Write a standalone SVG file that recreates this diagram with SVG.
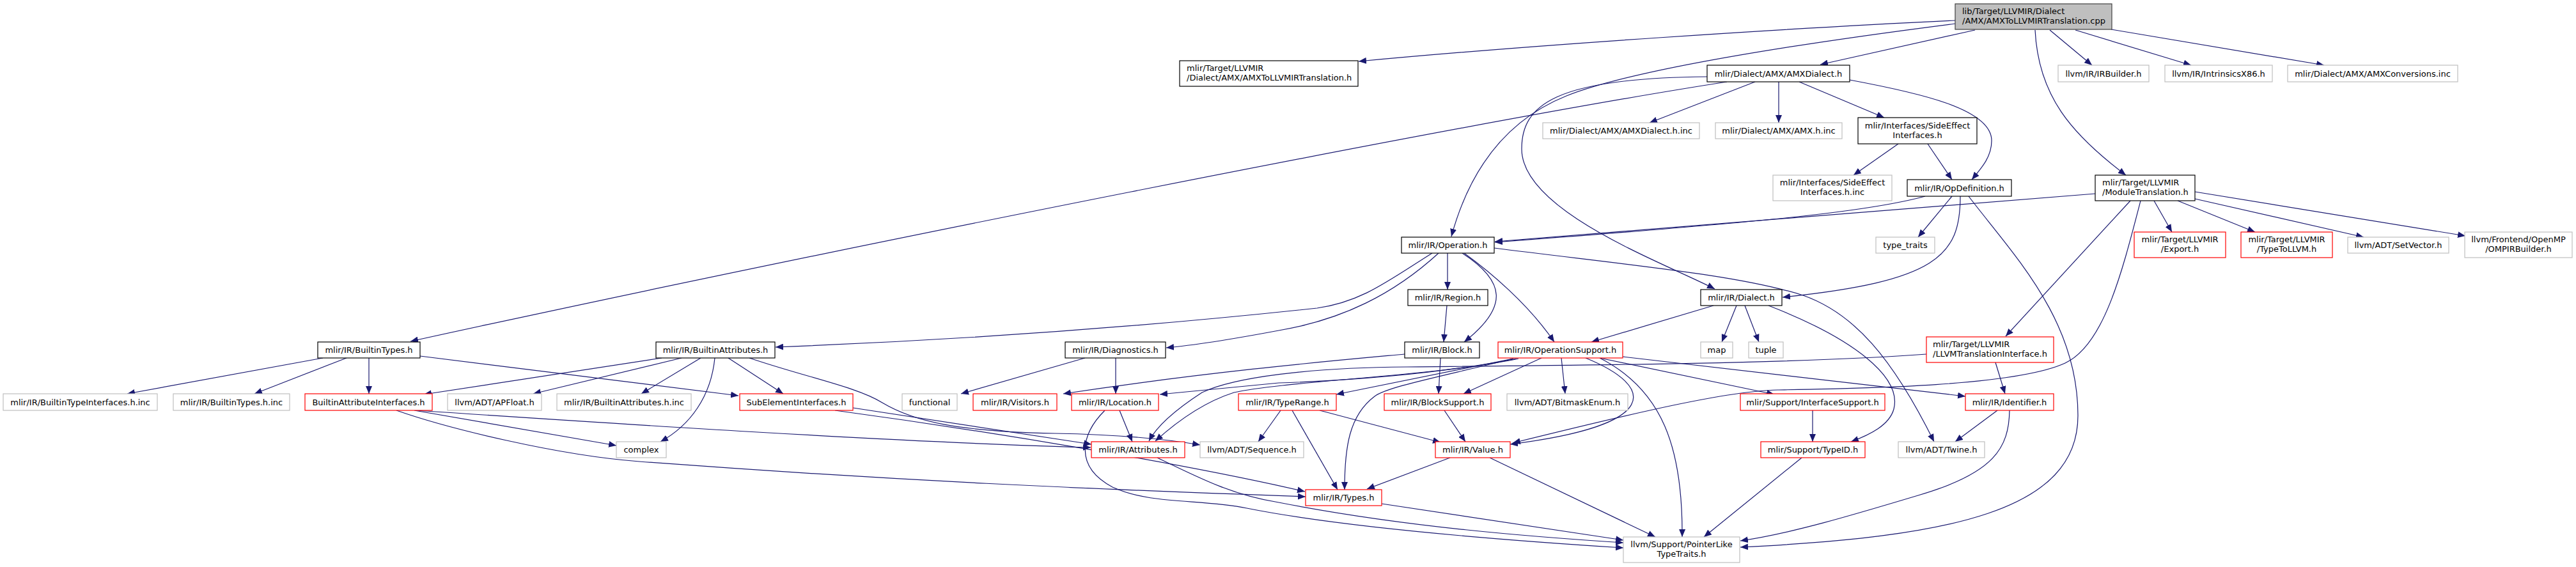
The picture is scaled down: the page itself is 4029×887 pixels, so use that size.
<svg xmlns="http://www.w3.org/2000/svg" width="4029" height="887" viewBox="0 0 4029 887">
<style>
.n rect{fill:#fff;stroke:#000;stroke-width:1.2}
.g rect{fill:#fff;stroke:#bfbfbf;stroke-width:1.2}
.r rect{fill:#fff;stroke:#ff0000;stroke-width:1.2}
.root rect{fill:#bfbfbf;stroke:#404040;stroke-width:1.2}
text{font-family:"DejaVu Sans","Liberation Sans",sans-serif;font-size:13px;fill:#000}
.c{text-anchor:middle}
#edges path{fill:none;stroke:#191970;stroke-width:1.2;marker-end:url(#a)}
</style>
<defs>
<marker id="a" markerUnits="userSpaceOnUse" markerWidth="13" markerHeight="10" refX="12" refY="5" orient="auto"><path d="M0,0 L12,5 L0,10 z" fill="#191970"/></marker>
</defs>
<rect width="4029" height="887" fill="#fff"/>
<g id="edges">
<path d="M3058,32 C2800,44 2400,70 2125,96"/>
<path d="M3089,47 L2847,101"/>
<path d="M3058,37 C2800,70 2550,110 2450,150 C2360,186 2300,260 2270,370"/>
<path d="M3183,47 C3188,150 3240,210 3325,274"/>
<path d="M3206,47 L3272,102"/>
<path d="M3246,47 L3427,102"/>
<path d="M3302,46 L3635,102"/>
<path d="M2701,128 C2300,190 1300,390 642,534"/>
<path d="M2670,120 C2430,122 2380,165 2380,233 C2380,330 2600,410 2682,452"/>
<path d="M2745,128 L2580,192"/>
<path d="M2782,128 L2782,192"/>
<path d="M2814,128 L2947,184"/>
<path d="M2893,125 C3000,145 3115,170 3115,220 C3115,245 3100,262 3084,281"/>
<path d="M2969,225 L2899,274"/>
<path d="M3015,225 L3053,281"/>
<path d="M3053,307 L3000,371"/>
<path d="M3011,307 C2920,332 2750,348 2338,379"/>
<path d="M3066,307 C3066,400 3030,440 2788,465"/>
<path d="M3079,307 C3150,400 3250,500 3250,650 C3250,800 3050,840 2722,856"/>
<path d="M3277,303 C2900,335 2600,358 2338,378"/>
<path d="M3332,314 L3137,526"/>
<path d="M3348,314 C3318,430 3290,540 3230,568 C3150,605 2900,608 2780,610 C2700,612 2560,645 2366,693"/>
<path d="M3369,314 L3397,363"/>
<path d="M3406,314 L3527,363"/>
<path d="M3433,311 L3697,371"/>
<path d="M3433,300 L3856,369"/>
<path d="M2240,396 C2170,440 2130,472 2060,482 C1800,510 1500,532 1213,543"/>
<path d="M2250,396 C2180,460 2100,500 2000,517 C1920,532 1870,540 1824,544"/>
<path d="M2264,396 L2264,453"/>
<path d="M2287,396 C2355,440 2360,480 2290,535"/>
<path d="M2290,396 C2330,425 2390,475 2431,535"/>
<path d="M2337,388 C2550,415 2720,430 2820,462 C2900,490 2960,560 3025,691"/>
<path d="M2263,478 L2258,535"/>
<path d="M2680,478 L2489,535"/>
<path d="M2716,478 L2693,535"/>
<path d="M2729,478 L2751,535"/>
<path d="M2766,478 C2900,530 2975,590 2962,640 C2955,665 2925,680 2895,691"/>
<path d="M2411,560 L2289,616"/>
<path d="M2442,560 L2448,616"/>
<path d="M2480,560 C2590,605 2600,665 2362,695"/>
<path d="M2502,560 C2600,610 2632,700 2631,840"/>
<path d="M2538,558 L3074,620"/>
<path d="M2502,560 L2775,617"/>
<path d="M2367,561 L2090,617"/>
<path d="M2367,561 C2250,590 2170,605 2150,620 C2110,650 2103,700 2103,766"/>
<path d="M2372,561 C2250,585 2100,596 2000,599 L1814,617"/>
<path d="M2375,561 C2250,588 2010,596 1930,614 C1880,630 1840,660 1807,690"/>
<path d="M2253,560 L2250,616"/>
<path d="M2197,554 C2100,563 1900,580 1663,616"/>
<path d="M3121,567 L3136,616"/>
<path d="M3013,554 C2800,570 2400,572 2200,574 C2050,575 1930,590 1880,614 C1840,640 1810,665 1797,690"/>
<path d="M1697,560 L1503,616"/>
<path d="M1745,560 L1745,616"/>
<path d="M1751,642 L1771,691"/>
<path d="M1728,642 C1690,680 1680,730 1740,762 C1800,790 1880,780 1950,795 C2100,825 2350,845 2539,857"/>
<path d="M1810,716 C1880,750 1930,775 2000,786 C2200,825 2400,840 2539,849"/>
<path d="M2161,788 L2539,845"/>
<path d="M2268,716 L2138,765"/>
<path d="M2330,716 L2589,840"/>
<path d="M2003,642 L1968,691"/>
<path d="M2021,642 L2092,766"/>
<path d="M2064,642 L2253,692"/>
<path d="M2259,642 L2292,691"/>
<path d="M2835,642 L2835,691"/>
<path d="M2818,716 L2665,840"/>
<path d="M3124,642 L3058,691"/>
<path d="M3143,642 C3142,700 3120,740 3000,775 C2900,805 2800,835 2722,846"/>
<path d="M505,560 L199,616"/>
<path d="M542,560 L398,616"/>
<path d="M577,560 L577,616"/>
<path d="M657,557 L1155,619"/>
<path d="M1035,560 L663,617"/>
<path d="M1066,560 L834,616"/>
<path d="M1096,560 L1003,616"/>
<path d="M1118,560 C1112,620 1080,665 1033,691"/>
<path d="M1139,560 L1225,616"/>
<path d="M1172,560 C1260,590 1340,605 1380,630 C1430,660 1500,675 1650,678 C1760,680 1830,688 1877,696"/>
<path d="M651,642 C950,662 1400,692 1706,700"/>
<path d="M648,642 L964,697"/>
<path d="M620,642 C700,670 870,712 1000,722 C1400,752 1700,765 2042,777"/>
<path d="M1334,638 L1707,695"/>
<path d="M1306,642 C1550,675 1850,725 2041,769"/>
</g>
<g id="n1" class="root"><rect x="3058" y="6" width="245" height="40"/><text x="3069" y="22">lib/Target/LLVMIR/Dialect</text><text x="3069" y="37">/AMX/AMXToLLVMIRTranslation.cpp</text></g>
<g id="n2" class="n"><rect x="1845" y="95" width="279" height="40"/><text x="1856" y="111">mlir/Target/LLVMIR</text><text x="1856" y="126">/Dialect/AMX/AMXToLLVMIRTranslation.h</text></g>
<g id="n3" class="n"><rect x="2670" y="102" width="223" height="26"/><text class="c" x="2781.5" y="119.5">mlir/Dialect/AMX/AMXDialect.h</text></g>
<g id="n4" class="g"><rect x="3219" y="102" width="142" height="26"/><text class="c" x="3290" y="119.5">llvm/IR/IRBuilder.h</text></g>
<g id="n5" class="g"><rect x="3386" y="102" width="168" height="26"/><text class="c" x="3470" y="119.5">llvm/IR/IntrinsicsX86.h</text></g>
<g id="n6" class="g"><rect x="3578" y="102" width="266" height="26"/><text class="c" x="3711" y="119.5">mlir/Dialect/AMX/AMXConversions.inc</text></g>
<g id="n7" class="g"><rect x="2413" y="192" width="245" height="25"/><text class="c" x="2535.5" y="209">mlir/Dialect/AMX/AMXDialect.h.inc</text></g>
<g id="n8" class="g"><rect x="2683" y="192" width="198" height="25"/><text class="c" x="2782" y="209">mlir/Dialect/AMX/AMX.h.inc</text></g>
<g id="n9" class="n"><rect x="2906" y="184" width="186" height="41"/><text class="c" x="2999" y="200.5">mlir/Interfaces/SideEffect</text><text class="c" x="2999" y="215.5">Interfaces.h</text></g>
<g id="n10" class="g"><rect x="2773" y="274" width="186" height="40"/><text class="c" x="2866" y="290">mlir/Interfaces/SideEffect</text><text class="c" x="2866" y="305">Interfaces.h.inc</text></g>
<g id="n11" class="n"><rect x="2983" y="281" width="163" height="26"/><text class="c" x="3064.5" y="298.5">mlir/IR/OpDefinition.h</text></g>
<g id="n12" class="n"><rect x="3277" y="274" width="156" height="40"/><text x="3288" y="290">mlir/Target/LLVMIR</text><text x="3288" y="305">/ModuleTranslation.h</text></g>
<g id="n13" class="n"><rect x="2192" y="371" width="145" height="25"/><text class="c" x="2264.5" y="388">mlir/IR/Operation.h</text></g>
<g id="n14" class="g"><rect x="2934" y="371" width="92" height="25"/><text class="c" x="2980" y="388">type_traits</text></g>
<g id="n15" class="r"><rect x="3338" y="363" width="143" height="40"/><text class="c" x="3409.5" y="379">mlir/Target/LLVMIR</text><text class="c" x="3409.5" y="394">/Export.h</text></g>
<g id="n16" class="r"><rect x="3505" y="363" width="143" height="40"/><text class="c" x="3576.5" y="379">mlir/Target/LLVMIR</text><text class="c" x="3576.5" y="394">/TypeToLLVM.h</text></g>
<g id="n17" class="g"><rect x="3672" y="371" width="158" height="25"/><text class="c" x="3751" y="388">llvm/ADT/SetVector.h</text></g>
<g id="n18" class="g"><rect x="3855" y="363" width="168" height="40"/><text class="c" x="3939" y="379">llvm/Frontend/OpenMP</text><text class="c" x="3939" y="394">/OMPIRBuilder.h</text></g>
<g id="n19" class="n"><rect x="2202" y="453" width="125" height="25"/><text class="c" x="2264.5" y="470">mlir/IR/Region.h</text></g>
<g id="n20" class="n"><rect x="2660" y="453" width="127" height="25"/><text class="c" x="2723.5" y="470">mlir/IR/Dialect.h</text></g>
<g id="n21" class="n"><rect x="497" y="535" width="160" height="25"/><text class="c" x="577" y="552">mlir/IR/BuiltinTypes.h</text></g>
<g id="n22" class="n"><rect x="1026" y="535" width="186" height="25"/><text class="c" x="1119" y="552">mlir/IR/BuiltinAttributes.h</text></g>
<g id="n23" class="n"><rect x="1666" y="535" width="157" height="25"/><text class="c" x="1744.5" y="552">mlir/IR/Diagnostics.h</text></g>
<g id="n24" class="n"><rect x="2197" y="535" width="117" height="25"/><text class="c" x="2255.5" y="552">mlir/IR/Block.h</text></g>
<g id="n25" class="r"><rect x="2343" y="535" width="195" height="25"/><text class="c" x="2440.5" y="552">mlir/IR/OperationSupport.h</text></g>
<g id="n26" class="g"><rect x="2660" y="535" width="50" height="25"/><text class="c" x="2685" y="552">map</text></g>
<g id="n27" class="g"><rect x="2735" y="535" width="54" height="25"/><text class="c" x="2762" y="552">tuple</text></g>
<g id="n28" class="r"><rect x="3013" y="527" width="199" height="40"/><text x="3023" y="543">mlir/Target/LLVMIR</text><text x="3023" y="558">/LLVMTranslationInterface.h</text></g>
<g id="n29" class="g"><rect x="5" y="616" width="241" height="26"/><text class="c" x="125.5" y="633.5">mlir/IR/BuiltinTypeInterfaces.h.inc</text></g>
<g id="n30" class="g"><rect x="271" y="616" width="182" height="26"/><text class="c" x="362" y="633.5">mlir/IR/BuiltinTypes.h.inc</text></g>
<g id="n31" class="r"><rect x="477" y="616" width="199" height="26"/><text class="c" x="576.5" y="633.5">BuiltinAttributeInterfaces.h</text></g>
<g id="n32" class="g"><rect x="700" y="616" width="147" height="26"/><text class="c" x="773.5" y="633.5">llvm/ADT/APFloat.h</text></g>
<g id="n33" class="g"><rect x="871" y="616" width="210" height="26"/><text class="c" x="976" y="633.5">mlir/IR/BuiltinAttributes.h.inc</text></g>
<g id="n34" class="r"><rect x="1157" y="616" width="177" height="26"/><text class="c" x="1245.5" y="633.5">SubElementInterfaces.h</text></g>
<g id="n35" class="g"><rect x="1411" y="616" width="86" height="26"/><text class="c" x="1454" y="633.5">functional</text></g>
<g id="n36" class="r"><rect x="1522" y="616" width="131" height="26"/><text class="c" x="1587.5" y="633.5">mlir/IR/Visitors.h</text></g>
<g id="n37" class="r"><rect x="1676" y="616" width="136" height="26"/><text class="c" x="1744" y="633.5">mlir/IR/Location.h</text></g>
<g id="n38" class="r"><rect x="1937" y="616" width="153" height="26"/><text class="c" x="2013.5" y="633.5">mlir/IR/TypeRange.h</text></g>
<g id="n39" class="r"><rect x="2165" y="616" width="167" height="26"/><text class="c" x="2248.5" y="633.5">mlir/IR/BlockSupport.h</text></g>
<g id="n40" class="g"><rect x="2357" y="616" width="189" height="26"/><text class="c" x="2451.5" y="633.5">llvm/ADT/BitmaskEnum.h</text></g>
<g id="n41" class="r"><rect x="2722" y="616" width="226" height="26"/><text class="c" x="2835" y="633.5">mlir/Support/InterfaceSupport.h</text></g>
<g id="n42" class="r"><rect x="3074" y="616" width="138" height="26"/><text class="c" x="3143" y="633.5">mlir/IR/Identifier.h</text></g>
<g id="n43" class="g"><rect x="964" y="691" width="78" height="25"/><text class="c" x="1003" y="708">complex</text></g>
<g id="n44" class="r"><rect x="1707" y="691" width="146" height="25"/><text class="c" x="1780" y="708">mlir/IR/Attributes.h</text></g>
<g id="n45" class="g"><rect x="1877" y="691" width="162" height="25"/><text class="c" x="1958" y="708">llvm/ADT/Sequence.h</text></g>
<g id="n46" class="r"><rect x="2245" y="691" width="117" height="25"/><text class="c" x="2303.5" y="708">mlir/IR/Value.h</text></g>
<g id="n47" class="r"><rect x="2754" y="691" width="163" height="25"/><text class="c" x="2835.5" y="708">mlir/Support/TypeID.h</text></g>
<g id="n48" class="g"><rect x="2969" y="691" width="135" height="25"/><text class="c" x="3036.5" y="708">llvm/ADT/Twine.h</text></g>
<g id="n49" class="r"><rect x="2042" y="766" width="119" height="25"/><text class="c" x="2101.5" y="783">mlir/IR/Types.h</text></g>
<g id="n50" class="g"><rect x="2539" y="840" width="182" height="40"/><text class="c" x="2630" y="856">llvm/Support/PointerLike</text><text class="c" x="2630" y="871">TypeTraits.h</text></g>
</svg>
